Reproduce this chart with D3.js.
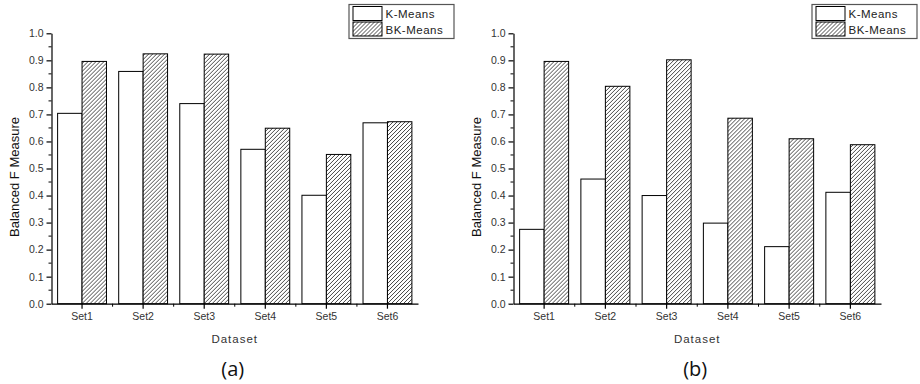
<!DOCTYPE html>
<html>
<head>
<meta charset="utf-8">
<script src="https://cdn.jsdelivr.net/npm/d3@7/dist/d3.min.js"></script>
<style>
  html, body { margin: 0; padding: 0; background: #fff; }
  svg { display: block; }
</style>
</head>
<body>
<svg id="chart" width="920" height="384"></svg>
<script>
// Datasets on the category axis
const categories = ["Set1", "Set2", "Set3", "Set4", "Set5", "Set6"];
const seriesNames = ["K-Means", "BK-Means"];

// Balanced F measure, panel (a)
const kMeansA  = [0.704, 0.859, 0.740, 0.571, 0.401, 0.669];
const bkMeansA = [0.896, 0.924, 0.923, 0.649, 0.552, 0.673];

// Balanced F measure, panel (b)
const kMeansB  = [0.275, 0.461, 0.400, 0.298, 0.211, 0.412];
const bkMeansB = [0.896, 0.804, 0.902, 0.686, 0.610, 0.588];

// Axis ticks
const yTicks = [0.0, 0.1, 0.2, 0.3, 0.4, 0.5, 0.6, 0.7, 0.8, 0.9, 1.0];
const yMinorTicks = [0.05, 0.15, 0.25, 0.35, 0.45, 0.55, 0.65, 0.75, 0.85, 0.95];

const panelLabels = ["(a)", "(b)"];
const yTitle = "Balanced F Measure";
const xTitle = "Dataset";

const svg = d3.select("#chart");
const tickFont = "'Liberation Sans', Arial, sans-serif";

// Diagonal hatch fill for the BK-Means bars
const defs = svg.append("defs");
const pat = defs.append("pattern")
  .attr("id", "hatch")
  .attr("patternUnits", "userSpaceOnUse")
  .attr("width", 4).attr("height", 4);
pat.append("rect").attr("width", 4).attr("height", 4).attr("fill", "#fff");
pat.append("path")
  .attr("d", "M-1,1 l2,-2 M0,4 l4,-4 M3,5 l2,-2")
  .attr("stroke", "#333")
  .attr("stroke-width", 0.9);

const fills = ["#fff", "url(#hatch)"];

function drawPanel(cfg) {
  const { left, right, top, bottom, kVals, bkVals, label, legendX } = cfg;
  const g = svg.append("g");

  const x = d3.scaleBand()
    .domain(categories)
    .range([left, right])
    .paddingInner(0.2)
    .paddingOuter(0.1);
  const xs = d3.scaleBand()
    .domain(seriesNames)
    .range([0, x.bandwidth()]);
  const y = d3.scaleLinear().domain([0, 1]).range([bottom, top]);

  const rows = categories.map((c, i) => ({ cat: c, vals: [kVals[i], bkVals[i]] }));

  // Bars
  const groups = g.selectAll("g.grp").data(rows).join("g")
    .attr("class", "grp")
    .attr("transform", d => `translate(${x(d.cat)},0)`);
  groups.selectAll("rect")
    .data(d => d.vals.map((v, j) => ({ v, s: seriesNames[j], j })))
    .join("rect")
    .attr("x", d => xs(d.s))
    .attr("y", d => y(d.v))
    .attr("width", xs.bandwidth())
    .attr("height", d => y(0) - y(d.v))
    .attr("fill", d => fills[d.j])
    .attr("stroke", "#000")
    .attr("stroke-width", 1);

  // Y axis
  const yAxis = g.append("g")
    .attr("transform", `translate(${left},0)`)
    .call(d3.axisLeft(y).tickValues(yTicks).tickFormat(d3.format(".1f"))
      .tickSize(5).tickSizeOuter(0).tickPadding(3));
  yAxis.selectAll("text").attr("font-size", 10.5).attr("fill", "#333")
    .attr("font-family", tickFont);
  yAxis.selectAll("line, path").attr("stroke", "#000").attr("stroke-width", 1.2);
  g.append("g").selectAll("line").data(yMinorTicks).join("line")
    .attr("x1", left - 3).attr("x2", left)
    .attr("y1", d => y(d)).attr("y2", d => y(d))
    .attr("stroke", "#000").attr("stroke-width", 1);

  // X axis: major ticks at dataset centres, minor ticks between datasets
  const xAxis = g.append("g")
    .attr("transform", `translate(0,${bottom})`)
    .call(d3.axisBottom(x).tickSize(5).tickSizeOuter(0).tickPadding(4));
  xAxis.selectAll("text").attr("font-size", 10.5).attr("fill", "#333")
    .attr("font-family", tickFont);
  xAxis.selectAll("line, path").attr("stroke", "#000").attr("stroke-width", 1.2);
  const step = x.step();
  const bounds = categories.slice(1).map(c => x(c) - step * x.paddingInner() / 2);
  g.append("g").selectAll("line").data(bounds).join("line")
    .attr("x1", d => d).attr("x2", d => d)
    .attr("y1", bottom).attr("y2", bottom + 3)
    .attr("stroke", "#000").attr("stroke-width", 1);

  // Axis titles
  const cx = (left + right) / 2;
  g.append("text")
    .attr("x", cx).attr("y", 343)
    .attr("text-anchor", "middle")
    .attr("font-family", tickFont)
    .attr("font-size", 11.5)
    .attr("letter-spacing", 1)
    .attr("fill", "#333")
    .text(xTitle);
  g.append("text")
    .attr("transform", `translate(${left - 33},177) rotate(-90)`)
    .attr("text-anchor", "middle")
    .attr("font-family", tickFont)
    .attr("font-size", 13)
    .attr("fill", "#111")
    .text(yTitle);

  // Panel label
  g.append("text")
    .attr("x", cx - 2).attr("y", 376)
    .attr("text-anchor", "middle")
    .attr("font-family", "'Open Sans', 'Noto Sans', sans-serif")
    .attr("font-size", 20)
    .attr("fill", "#111")
    .text(label);

  // Legend
  const lg = g.append("g").attr("transform", `translate(${legendX},4)`);
  lg.append("rect").attr("x", 0.5).attr("y", 0.5).attr("width", 105).attr("height", 34)
    .attr("fill", "#fff").attr("stroke", "#555").attr("stroke-width", 1.2);
  seriesNames.forEach((s, i) => {
    lg.append("rect")
      .attr("x", 4.5).attr("y", 2.5 + i * 15.5)
      .attr("width", 29).attr("height", 14)
      .attr("fill", fills[i]).attr("stroke", "#000").attr("stroke-width", 1);
    lg.append("text")
      .attr("x", 37).attr("y", 14 + i * 15.5)
      .attr("font-family", tickFont)
      .attr("font-size", 11.5)
      .attr("letter-spacing", 0.5)
      .attr("fill", "#222")
      .text(s);
  });
}

drawPanel({ left: 51.5, right: 418, top: 33.3, bottom: 303.7,
  kVals: kMeansA, bkVals: bkMeansA, label: panelLabels[0], legendX: 348.5 });
drawPanel({ left: 513.5, right: 881, top: 33.3, bottom: 303.7,
  kVals: kMeansB, bkVals: bkMeansB, label: panelLabels[1], legendX: 811.5 });
</script>
</body>
</html>
